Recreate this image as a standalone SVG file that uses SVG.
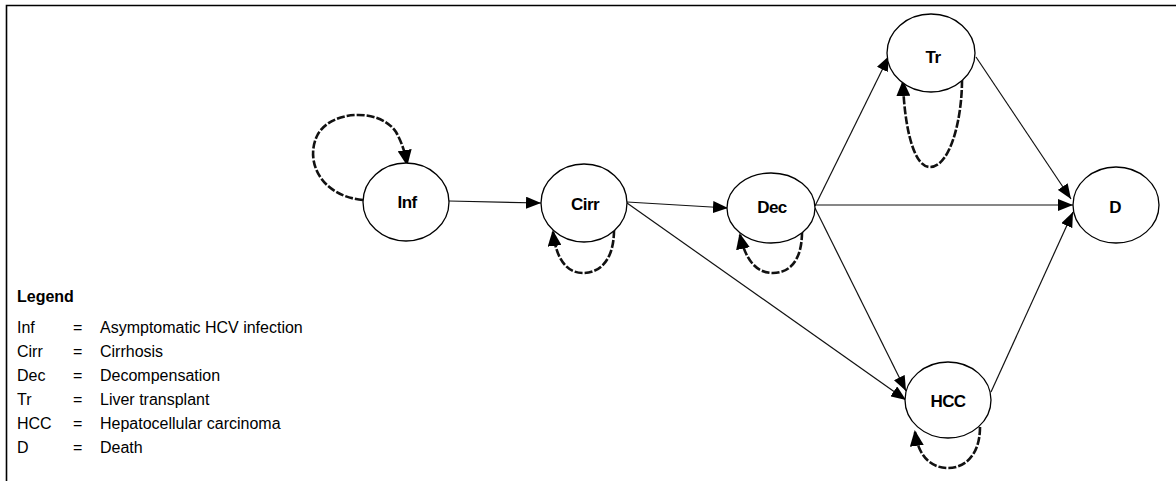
<svg xmlns="http://www.w3.org/2000/svg" width="1176" height="481" viewBox="0 0 1176 481">
<defs>
<style>
.node ellipse{fill:#fff;stroke:#000;stroke-width:1.3}
.node text{font-family:"Liberation Sans",Arial,sans-serif;font-weight:bold;font-size:17px;text-anchor:middle;fill:#000;letter-spacing:-0.6px}
.edge{fill:none;stroke:#111;stroke-width:1.2}
.loop{fill:none;stroke:#111;stroke-width:2.6;stroke-dasharray:8 2}
.leg{font-family:"Liberation Sans",Arial,sans-serif;font-size:16px;fill:#000}
</style>
<marker id="ah" markerUnits="userSpaceOnUse" markerWidth="15" markerHeight="12" refX="15" refY="6" orient="auto"><path d="M0,0 L15,6 L0,12 z" fill="#000"/></marker>
<marker id="ahl" markerUnits="userSpaceOnUse" markerWidth="16" markerHeight="14" refX="14" refY="7" orient="auto"><path d="M0,0 L16,7 L0,14 z" fill="#000"/></marker>
</defs>
<rect width="1176" height="481" fill="#fff"/>
<path d="M6.5,481 L6.5,5.5 L1176,5.5" fill="none" stroke="#000" stroke-width="1.6"/>
<g id="connectors">
<path class="edge" d="M449,201 L541,203" marker-end="url(#ah)"/>
<path class="edge" d="M627,202 L728,208" marker-end="url(#ah)"/>
<path class="edge" d="M627,203 L906,400" marker-end="url(#ah)"/>
<path class="edge" d="M815,206 L889,56" marker-end="url(#ah)"/>
<path class="edge" d="M815,205 L1073,205" marker-end="url(#ah)"/>
<path class="edge" d="M815,208 L906,391" marker-end="url(#ah)"/>
<path class="edge" d="M976,57 L1071,199" marker-end="url(#ah)"/>
<path class="edge" d="M991,392 L1073,212" marker-end="url(#ah)"/>
<path class="loop" d="M363,200 C320,196 304,160 318,134 C332,110 380,108 396,132 Q404,146 407,164" marker-end="url(#ahl)"/>
<path class="loop" d="M614,230 C614,260 600,273 583,273 C566,273 556,258 553,232" marker-end="url(#ahl)"/>
<path class="loop" d="M802,232 C802,260 790,273 773,273 C755,273 745,258 740,235" marker-end="url(#ahl)"/>
<path class="loop" d="M962,80 C962,120 950,167 930,167 C912,167 904,120 903,82" marker-end="url(#ahl)"/>
<path class="loop" d="M980,427 C980,455 965,468 948,468 C930,468 918,455 915,432" marker-end="url(#ahl)"/>
</g>
<g id="node-inf" class="node"><ellipse cx="406" cy="202" rx="43" ry="39"/><text x="407" y="208">Inf</text></g>
<g id="node-cirr" class="node"><ellipse cx="584" cy="203" rx="43" ry="39"/><text x="585" y="210">Cirr</text></g>
<g id="node-dec" class="node"><ellipse cx="771" cy="208" rx="44" ry="35"/><text x="772" y="213">Dec</text></g>
<g id="node-tr" class="node"><ellipse cx="931" cy="53" rx="44" ry="39"/><text x="933" y="63">Tr</text></g>
<g id="node-d" class="node"><ellipse cx="1116" cy="205" rx="43" ry="38"/><text x="1115" y="213">D</text></g>
<g id="node-hcc" class="node"><ellipse cx="948" cy="400" rx="43" ry="38"/><text x="948" y="407">HCC</text></g>
<g id="legend" class="leg">
<text x="17" y="302" font-weight="bold">Legend</text>
<text x="17" y="333">Inf</text><text x="73" y="333">=</text><text x="100" y="333">Asymptomatic HCV infection</text>
<text x="17" y="357">Cirr</text><text x="73" y="357">=</text><text x="100" y="357">Cirrhosis</text>
<text x="17" y="381">Dec</text><text x="73" y="381">=</text><text x="100" y="381">Decompensation</text>
<text x="17" y="405">Tr</text><text x="73" y="405">=</text><text x="100" y="405">Liver transplant</text>
<text x="17" y="429">HCC</text><text x="73" y="429">=</text><text x="100" y="429">Hepatocellular carcinoma</text>
<text x="17" y="453">D</text><text x="73" y="453">=</text><text x="100" y="453">Death</text>
</g>
</svg>
